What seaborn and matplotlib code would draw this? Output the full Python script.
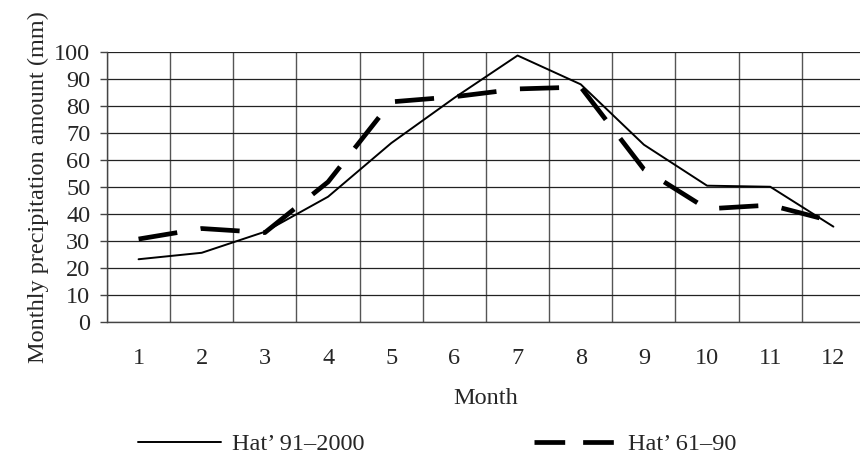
import numpy as np
import pandas as pd
import matplotlib
matplotlib.use("Agg")
import matplotlib.pyplot as plt
import seaborn as sns

sns.set_style("white")
plt.rcParams['font.family'] = ['Liberation Serif', 'DejaVu Serif']

# data
months = [1, 2, 3, 4, 5, 6, 7, 8, 9, 10, 11, 12]
recent = [23.1, 25.5, 33.3, 46.3, 66.2, 83.0, 98.7, 88.0, 65.6, 50.4, 50.0, 35.2]   # Hat' 91-2000
older = [30.6, 34.5, 33.0, 51.8, 81.5, 83.4, 86.3, 87.0, 56.5, 41.8, 43.2, 37.1]    # Hat' 61-90
labels = ["Hat\u2019 91\u20132000", "Hat\u2019 61\u201390"]

df = pd.DataFrame({"month": months * 2,
                   "value": recent + older,
                   "series": [labels[0]] * 12 + [labels[1]] * 12})

fs = 17.5

fig = plt.figure(figsize=(8.6, 4.55), dpi=100)
ax = fig.add_axes([0.1244, 0.2934, 0.8814, 0.5923])

sns.lineplot(data=df[df.series == labels[0]], x="month", y="value", ax=ax,
             color="black", lw=1.4, label=labels[0])
sns.lineplot(data=df[df.series == labels[1]], x="month", y="value", ax=ax,
             color="black", lw=3.4, label=labels[1], dashes=False)
ax.lines[1].set_dashes([8.3, 5.0])
ax.lines[1].set_dash_capstyle("butt")

ax.set_xlim(0.5, 12.5)
ax.set_ylim(0, 100)
ax.set_xticks(months)
ax.set_xticks(np.arange(0.5, 13, 1), minor=True)
ax.set_yticks(range(0, 101, 10))
ax.tick_params(axis="x", which="major", length=0, pad=19, labelsize=fs)
ax.tick_params(axis="x", which="minor", length=5, width=1, color="#555555", direction="out")
ax.tick_params(axis="y", length=5, width=1, color="#444444", direction="out",
               labelsize=fs, pad=7, left=True)
ax.grid(True, axis="x", which="minor", color="#555555", lw=1)
ax.grid(True, axis="y", which="major", color="#222222", lw=0.9)
ax.set_axisbelow(True)
for s in ["top", "right"]:
    ax.spines[s].set_visible(False)
for s in ["left", "bottom"]:
    ax.spines[s].set_color("#444444")
    ax.spines[s].set_linewidth(1)

ax.set_xlabel("Month", fontsize=fs, labelpad=14)
ax.set_ylabel("Monthly precipitation amount (mm)", fontsize=fs, labelpad=4)

ax.get_legend().remove()
handles = ax.lines[:2]
leg = fig.legend(handles, labels, loc="center left", bbox_to_anchor=(138 / 860, 1 - 444 / 455),
                 ncol=2, frameon=False, fontsize=fs, handlelength=3.4, columnspacing=7.0,
                 handletextpad=0.45, borderpad=0, borderaxespad=0)
leg.get_lines()[1].set_dashes([6.5, 3.8])

fig.savefig("out.png", dpi=100)
